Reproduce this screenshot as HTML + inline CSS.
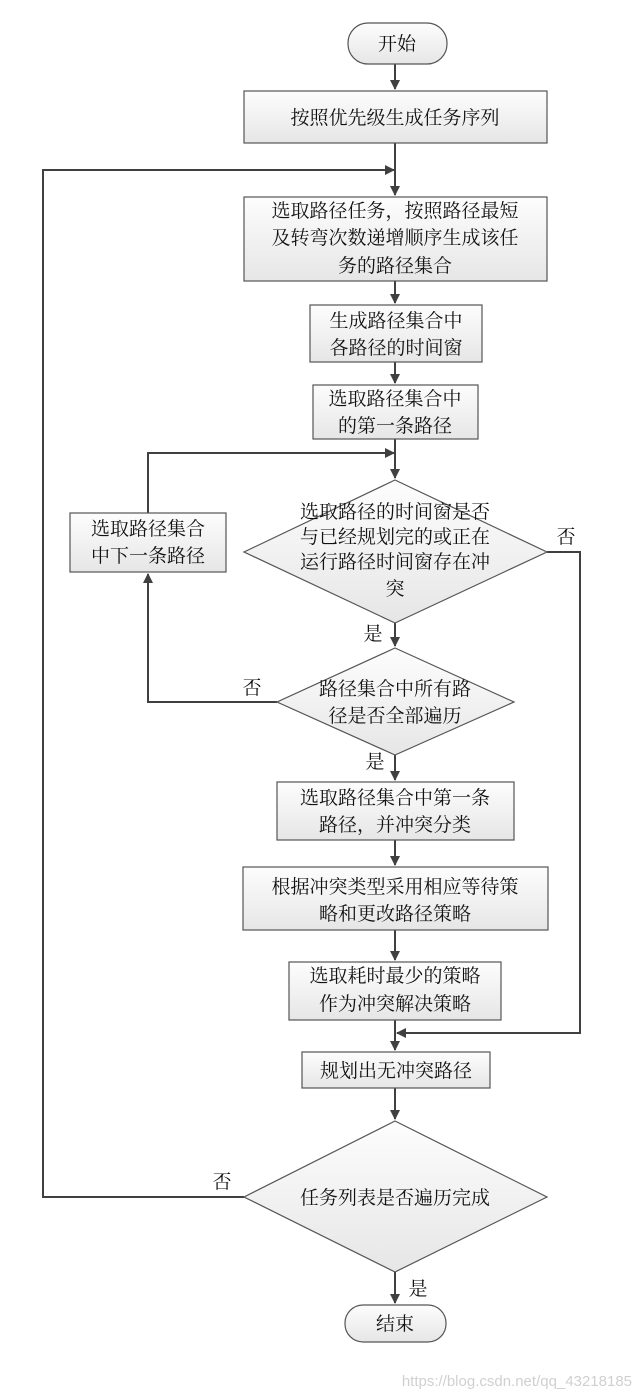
<!DOCTYPE html>
<html><head><meta charset="utf-8"><style>
html,body{margin:0;padding:0;background:#fff;}
svg{display:block;}
text{font-family:"Liberation Serif","Noto Serif CJK SC","Noto Sans CJK SC",serif;font-size:19px;fill:#111;}
</style></head><body>
<svg width="637" height="1397" viewBox="0 0 637 1397" xmlns="http://www.w3.org/2000/svg">
<defs>
<linearGradient id="g" x1="0" y1="0" x2="0" y2="1"><stop offset="0" stop-color="#fdfdfd"/><stop offset="1" stop-color="#e6e6e6"/></linearGradient>
<marker id="a" markerWidth="10" markerHeight="10" refX="9" refY="5" orient="auto" markerUnits="userSpaceOnUse"><path d="M0,0 L10,5 L0,10 z" fill="#404040"/></marker>
</defs>
<g stroke="#404040" stroke-width="2" fill="none">
<line x1="395" y1="64" x2="395" y2="89" marker-end="url(#a)"/>
<line x1="395" y1="143" x2="395" y2="195" marker-end="url(#a)"/>
<polyline points="244,1197 43,1197 43,170 394,170" marker-end="url(#a)"/>
<line x1="395" y1="281" x2="395" y2="303" marker-end="url(#a)"/>
<line x1="395" y1="362" x2="395" y2="383" marker-end="url(#a)"/>
<line x1="395" y1="439" x2="395" y2="478" marker-end="url(#a)"/>
<polyline points="148,513 148,453 394,453" marker-end="url(#a)"/>
<line x1="395" y1="623" x2="395" y2="646" marker-end="url(#a)"/>
<polyline points="277,702 148,702 148,574" marker-end="url(#a)"/>
<polyline points="547,552 580,552 580,1033 397,1033" marker-end="url(#a)"/>
<line x1="395" y1="755" x2="395" y2="780" marker-end="url(#a)"/>
<line x1="395" y1="840" x2="395" y2="865" marker-end="url(#a)"/>
<line x1="395" y1="930" x2="395" y2="960" marker-end="url(#a)"/>
<line x1="395" y1="1020" x2="395" y2="1050" marker-end="url(#a)"/>
<line x1="395" y1="1088" x2="395" y2="1119" marker-end="url(#a)"/>
<line x1="395" y1="1272" x2="395" y2="1303" marker-end="url(#a)"/>
</g>
<g stroke="#555" stroke-width="1.2" fill="url(#g)">
<rect x="348" y="23" width="99" height="41" rx="20"/>
<rect x="244" y="91" width="303" height="52"/>
<rect x="244" y="197" width="303" height="84"/>
<rect x="310" y="305" width="172" height="57"/>
<rect x="313" y="385" width="165" height="54"/>
<polygon points="395,480 547,552 395,623 244,552"/>
<rect x="70" y="513" width="156" height="59"/>
<polygon points="395,648 514,702 395,755 277,702"/>
<rect x="277" y="782" width="237" height="58"/>
<rect x="243" y="867" width="305" height="63"/>
<rect x="289" y="962" width="212" height="58"/>
<rect x="302" y="1052" width="188" height="36"/>
<polygon points="395,1121 547,1197 395,1272 244,1197"/>
<rect x="345" y="1305" width="101" height="37" rx="18"/>
</g>
<g text-anchor="middle">
<text x="397" y="50">开始</text>
<text x="395" y="124">按照优先级生成任务序列</text>
<text x="395" y="217">选取路径任务，按照路径最短</text>
<text x="395" y="244">及转弯次数递增顺序生成该任</text>
<text x="395" y="272">务的路径集合</text>
<text x="396" y="327">生成路径集合中</text>
<text x="396" y="354">各路径的时间窗</text>
<text x="395" y="405">选取路径集合中</text>
<text x="395" y="432">的第一条路径</text>
<text x="395" y="518">选取路径的时间窗是否</text>
<text x="395" y="543">与已经规划完的或正在</text>
<text x="395" y="568">运行路径时间窗存在冲</text>
<text x="395" y="595">突</text>
<text x="148" y="535">选取路径集合</text>
<text x="148" y="562">中下一条路径</text>
<text x="395" y="695">路径集合中所有路</text>
<text x="395" y="722">径是否全部遍历</text>
<text x="395" y="804">选取路径集合中第一条</text>
<text x="395" y="831">路径，并冲突分类</text>
<text x="395" y="893">根据冲突类型采用相应等待策</text>
<text x="395" y="920">略和更改路径策略</text>
<text x="395" y="982">选取耗时最少的策略</text>
<text x="395" y="1010">作为冲突解决策略</text>
<text x="396" y="1077">规划出无冲突路径</text>
<text x="395" y="1204">任务列表是否遍历完成</text>
<text x="395" y="1330">结束</text>
<text x="566" y="543">否</text>
<text x="373" y="640">是</text>
<text x="252" y="694">否</text>
<text x="375" y="768">是</text>
<text x="222" y="1188">否</text>
<text x="418" y="1295">是</text>
</g>
<text x="632" y="1386" text-anchor="end" style="font-family:'Liberation Sans',sans-serif;font-size:15px;fill:#d0d0d0;">https://blog.csdn.net/qq_43218185</text>
</svg>
</body></html>
